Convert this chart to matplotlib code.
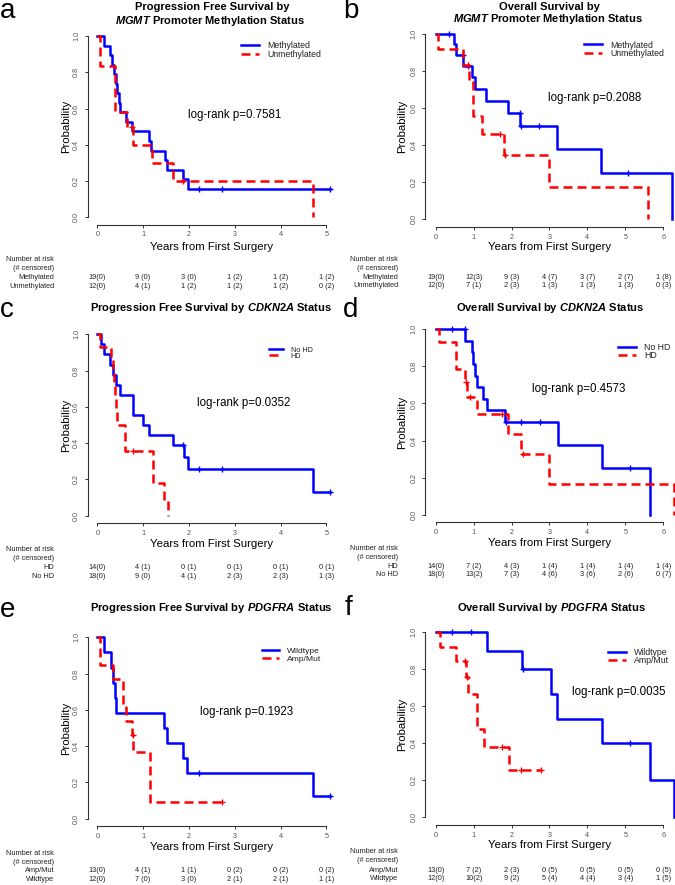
import matplotlib
matplotlib.use("Agg")
import matplotlib.pyplot as plt
import numpy as np
from matplotlib.transforms import blended_transform_factory

plt.rcParams['font.family'] = 'Liberation Sans'
plt.rcParams['mathtext.fontset'] = 'custom'
plt.rcParams['mathtext.it'] = 'Liberation Sans:italic:bold'
plt.rcParams['mathtext.rm'] = 'Liberation Sans:bold'
plt.rcParams['mathtext.bf'] = 'Liberation Sans:bold'

# ---------------- DATA ----------------
# a: PFS by MGMT
meth_pfs_t = [0, 0.15, 0.28, 0.33, 0.37, 0.41, 0.44, 0.48, 0.50, 0.63, 0.75, 1.13, 1.18, 1.47, 1.53, 1.87, 1.97, 5.08]
meth_pfs_s = [1.0, 0.947, 0.895, 0.842, 0.789, 0.737, 0.684, 0.632, 0.579, 0.526, 0.474, 0.421, 0.368, 0.316, 0.263, 0.211, 0.158, 0.158]
meth_pfs_cens = [2.23, 2.72, 5.08]
unmeth_pfs_t = [0, 0.06, 0.39, 0.64, 0.79, 1.19, 1.65, 4.70]
unmeth_pfs_s = [1.0, 0.833, 0.583, 0.5, 0.4, 0.3, 0.2, 0.0]
unmeth_pfs_cens = [0.75, 1.88]

# b: OS by MGMT
meth_os_t = [0, 0.49, 0.53, 0.73, 0.95, 1.04, 1.32, 1.90, 2.23, 3.19, 4.35, 6.22]
meth_os_s = [1.0, 0.944, 0.889, 0.830, 0.766, 0.702, 0.638, 0.574, 0.503, 0.377, 0.251, 0.0]
meth_os_cens = [0.36, 0.72, 0.86, 2.21, 2.25, 2.72, 5.08]
unmeth_os_t = [0, 0.07, 0.73, 0.88, 0.99, 1.21, 1.81, 2.98, 5.60]
unmeth_os_s = [1.0, 0.917, 0.833, 0.741, 0.556, 0.463, 0.347, 0.174, 0.0]
unmeth_os_cens = [0.85, 1.70, 1.84]

# c: PFS by CDKN2A
nohd_pfs_t = [0, 0.08, 0.15, 0.28, 0.35, 0.41, 0.50, 0.77, 0.79, 0.99, 1.12, 1.66, 1.90, 1.97, 4.71, 5.07]
nohd_pfs_s = [1.0, 0.944, 0.889, 0.833, 0.778, 0.722, 0.667, 0.611, 0.556, 0.5, 0.444, 0.389, 0.324, 0.259, 0.130, 0.130]
nohd_pfs_cens = [1.87, 2.23, 2.72, 5.07]
hd_pfs_t = [0, 0.06, 0.31, 0.35, 0.37, 0.39, 0.41, 0.44, 0.60, 1.21, 1.46, 1.54]
hd_pfs_s = [1.0, 0.929, 0.857, 0.786, 0.714, 0.643, 0.571, 0.5, 0.357, 0.179, 0.089, 0.0]
hd_pfs_cens = [0.77]

# d: OS by CDKN2A
nohd_os_t = [0, 0.78, 0.95, 0.99, 1.04, 1.08, 1.26, 1.34, 1.83, 3.22, 4.38, 5.65]
nohd_os_s = [1.0, 0.9375, 0.875, 0.8125, 0.75, 0.6875, 0.625, 0.5625, 0.5, 0.375, 0.25, 0.0]
nohd_os_cens = [0.42, 0.77, 1.85, 2.25, 2.75, 5.12]
hd_os_t = [0, 0.09, 0.53, 0.76, 0.82, 1.08, 1.90, 2.25, 2.99, 6.27]
hd_os_s = [1.0, 0.929, 0.786, 0.714, 0.635, 0.544, 0.435, 0.326, 0.163, 0.0]
hd_os_cens = [0.79, 0.90, 1.74, 2.31]

# e: PFS by PDGFRA
wt_pfs_t = [0, 0.15, 0.31, 0.35, 0.39, 0.40, 1.46, 1.53, 1.87, 1.95, 4.71, 5.07]
wt_pfs_s = [1.0, 0.917, 0.833, 0.75, 0.667, 0.583, 0.5, 0.417, 0.333, 0.25, 0.125, 0.125]
wt_pfs_cens = [2.23, 5.07]
amp_pfs_t = [0, 0.06, 0.34, 0.57, 0.63, 0.765, 0.78, 1.15, 2.72]
amp_pfs_s = [1.0, 0.846, 0.769, 0.615, 0.538, 0.462, 0.369, 0.092, 0.092]
amp_pfs_cens = [0.77, 2.72]

# f: OS by PDGFRA
wt_os_t = [0, 1.36, 2.28, 3.04, 3.20, 4.38, 5.65, 6.29]
wt_os_s = [1.0, 0.9, 0.8, 0.667, 0.533, 0.4, 0.2, 0.0]
wt_os_cens = [0.42, 0.93, 2.31, 5.12]
amp_os_t = [0, 0.12, 0.53, 0.81, 0.86, 1.08, 1.27, 1.93, 2.78]
amp_os_s = [1.0, 0.923, 0.846, 0.761, 0.666, 0.476, 0.381, 0.254, 0.254]
amp_os_cens = [0.77, 0.83, 1.74, 2.25, 2.78]

# number at risk tables
risk_a = {"Methylated": ["19(0)", "9 (0)", "3 (0)", "1 (2)", "1 (2)", "1 (2)"],
          "Unmethylated": ["12(0)", "4 (1)", "1 (2)", "1 (2)", "1 (2)", "0 (2)"]}
risk_b = {"Methylated": ["19(0)", "12(3)", "9 (3)", "4 (7)", "3 (7)", "2 (7)", "1 (8)"],
          "Unmethylated": ["12(0)", "7 (1)", "2 (3)", "1 (3)", "1 (3)", "1 (3)", "0 (3)"]}
risk_c = {"HD": ["14(0)", "4 (1)", "0 (1)", "0 (1)", "0 (1)", "0 (1)"],
          "No HD": ["18(0)", "9 (0)", "4 (1)", "2 (3)", "2 (3)", "1 (3)"]}
risk_d = {"HD": ["14(0)", "7 (2)", "4 (3)", "1 (4)", "1 (4)", "1 (4)", "1 (4)"],
          "No HD": ["18(0)", "13(2)", "7 (3)", "4 (6)", "3 (6)", "2 (6)", "0 (7)"]}
risk_e = {"Amp/Mut": ["13(0)", "4 (1)", "1 (1)", "0 (2)", "0 (2)", "0 (2)"],
          "Wildtype": ["12(0)", "7 (0)", "3 (0)", "2 (1)", "2 (1)", "1 (1)"]}
risk_f = {"Amp/Mut": ["13(0)", "7 (2)", "2 (3)", "0 (5)", "0 (5)", "0 (5)", "0 (5)"],
          "Wildtype": ["12(0)", "10(2)", "9 (2)", "5 (4)", "4 (4)", "3 (4)", "1 (5)"]}

pvals = ["0.7581", "0.2088", "0.0352", "0.4573", "0.1923", "0.0035"]

# ---------------- FIGURE ----------------
W, H = 675, 885
fig = plt.figure(figsize=(W / 100, H / 100), dpi=100)

def fx(x):
    return x / W

def fy(y):
    return 1 - y / H

BLUE = "#0000FF"
RED = "#FF0000"
AXC = "#333333"
TXC = "#555555"


def km(ax, t, s, cens, color, dashed, label):
    ls = (0, (3.6, 2.0)) if dashed else "-"
    line, = ax.step(t, s, where="post", color=color, lw=1.8, linestyle=ls,
                    clip_on=False, label=label)
    idx = np.searchsorted(t, cens, side="right") - 1
    ax.plot(cens, np.array(s)[idx], "+", color=color, ms=5, mew=1.0, clip_on=False)
    return line


def panel(geom, xmax, curves, risk, title, pos_title, pval, pos_p, letter, pos_letter,
          pos_leg, leg_size, rows_y, lab_x, xlab_y, ylab_x):
    t0, sx, ytop, ybot, xa, xb = geom
    sy = ybot - ytop
    left = t0 + xa * sx
    right = t0 + xb * sx
    top = ytop - 0.04 * sy
    bottom = ybot + 0.04 * sy
    ax = fig.add_axes([fx(left), fy(bottom), (right - left) / W, (bottom - top) / H])
    ax.set_xlim(xa, xb)
    ax.set_ylim(-0.04, 1.04)

    handles = []
    for (t, s, c, color, dashed, lab) in curves:
        handles.append(km(ax, t, s, c, color, dashed, lab))

    for side in ["top", "right"]:
        ax.spines[side].set_visible(False)
    for side in ["left", "bottom"]:
        ax.spines[side].set_color(AXC)
        ax.spines[side].set_linewidth(0.8)
    ax.spines["left"].set_bounds(0, 1)
    ax.spines["bottom"].set_bounds(0, xmax)
    ax.set_xticks(range(xmax + 1))
    ax.set_yticks([0, 0.2, 0.4, 0.6, 0.8, 1.0])
    ax.set_yticklabels(["0.0", "0.2", "0.4", "0.6", "0.8", "1.0"])
    ax.tick_params(direction="out", length=2.5, width=0.7, color=AXC,
                   labelsize=5.2, labelcolor=TXC)
    ax.tick_params(axis="x", pad=2.5)
    ax.tick_params(axis="y", pad=3, labelrotation=90)
    plt.setp(ax.get_yticklabels(), va="center")

    ax.set_xlabel("Years from First Surgery", fontsize=8.2, va="center")
    ax.xaxis.set_label_coords(0.5, (bottom - xlab_y) / (bottom - top))
    ax.set_ylabel("Probability", fontsize=8.2, va="center")
    ax.yaxis.set_label_coords((ylab_x - left) / (right - left), 0.5)

    # legend
    leg = ax.legend(handles=handles, loc="upper left", frameon=False,
                    bbox_to_anchor=(fx(pos_leg[0]), fy(pos_leg[1])),
                    bbox_transform=fig.transFigure, fontsize=leg_size,
                    borderpad=0, borderaxespad=0, handlelength=2.0,
                    handletextpad=1.0, labelspacing=-0.1)
    for txt in leg.get_texts():
        txt.set_color("#222222")

    # p-value
    ax.text((pos_p[0] - t0) / sx, (ybot - pos_p[1]) / sy, "log-rank p=" + pval,
            ha="center", va="center", fontsize=8.3)

    # title
    for line, (xc, yc) in zip(title, pos_title):
        fig.text(fx(xc), fy(yc), line, ha="center", va="center", fontsize=8,
                 fontweight="bold")

    # panel letter
    fig.text(fx(pos_letter[0]), fy(pos_letter[1]), letter, fontsize=20,
             va="baseline", ha="left")

    # risk table
    trans = blended_transform_factory(ax.transData, fig.transFigure)
    fig.text(fx(lab_x), fy(rows_y[0]), "Number at risk", ha="right", va="center",
             fontsize=5.3, color="#222222")
    fig.text(fx(lab_x), fy(rows_y[1]), "(# censored)", ha="right", va="center",
             fontsize=5.3, color="#222222")
    for k, (name, vals) in enumerate(risk.items()):
        y = rows_y[2 + k]
        fig.text(fx(lab_x), fy(y), name, ha="right", va="center", fontsize=5.3,
                 color="#222222")
        for i, v in enumerate(vals):
            ax.text(i, fy(y), v, transform=trans, ha="center", va="center",
                    fontsize=5.3, color="#222222")
    return ax


LEFT = (97.3, 45.8, -0.21, 5.2)
RIGHT = (435.7, 37.93, -0.28, 6.3)

def g(col, ytop, ybot):
    return (col[0], col[1], ytop, ybot, col[2], col[3])

# a
panel(g(LEFT, 36, 217.3), 5,
      [(meth_pfs_t, meth_pfs_s, meth_pfs_cens, BLUE, False, "Methylated"),
       (unmeth_pfs_t, unmeth_pfs_s, unmeth_pfs_cens, RED, True, "Unmethylated")],
      risk_a, ["Progression Free Survival by", r"$\mathit{MGMT}$ Promoter Methylation Status"],
      [(212, 7), (210, 21)], pvals[0], (235, 115), "a", (0, 18),
      (241, 41.5), 6.3, [259.3, 268.3, 277.3, 286], 54, 246.7, 66)
# b
panel(g(RIGHT, 34, 219.3), 6,
      [(meth_os_t, meth_os_s, meth_os_cens, BLUE, False, "Methylated"),
       (unmeth_os_t, unmeth_os_s, unmeth_os_cens, RED, True, "Unmethylated")],
      risk_b, ["Overall Survival by", r"$\mathit{MGMT}$ Promoter Methylation Status"],
      [(549, 6.7), (548, 19.5)], pvals[1], (594.3, 98.3), "b", (343, 18.3),
      (584, 40.5), 6.3, [259.3, 268.3, 277.3, 285.3], 398, 247.3, 402)
# c
panel(g(LEFT, 334.3, 515.7), 5,
      [(nohd_pfs_t, nohd_pfs_s, nohd_pfs_cens, BLUE, False, "No HD"),
       (hd_pfs_t, hd_pfs_s, hd_pfs_cens, RED, True, "HD")],
      risk_c, [r"Progression Free Survival by $\mathit{CDKN2A}$ Status"],
      [(211, 308.3)], pvals[2], (243.3, 403.3), "c", (0, 316.7),
      (269, 346.5), 5.2, [549.3, 558.3, 567.3, 576], 54, 544.3, 66)
# d
panel(g(RIGHT, 329.3, 514.7), 6,
      [(nohd_os_t, nohd_os_s, nohd_os_cens, BLUE, False, "No HD"),
       (hd_os_t, hd_os_s, hd_os_cens, RED, True, "HD")],
      risk_d, [r"Overall Survival by $\mathit{CDKN2A}$ Status"],
      [(550.5, 308.3)], pvals[3], (579, 389), "d", (343, 316.7),
      (618, 343), 6.3, [548.3, 557.3, 566.7, 575], 398, 543.3, 402)
# e
panel(g(LEFT, 637.3, 818.7), 5,
      [(wt_pfs_t, wt_pfs_s, wt_pfs_cens, BLUE, False, "Wildtype"),
       (amp_pfs_t, amp_pfs_s, amp_pfs_cens, RED, True, "Amp/Mut")],
      risk_e, [r"Progression Free Survival by $\mathit{PDGFRA}$ Status"],
      [(211, 607.7)], pvals[4], (246.7, 711.7), "e", (0, 616.7),
      (262, 647.5), 6.1, [853.3, 862.3, 871, 879.3], 54, 846.7, 66)
# f
panel(g(RIGHT, 632.3, 817.3), 6,
      [(wt_os_t, wt_os_s, wt_os_cens, BLUE, False, "Wildtype"),
       (amp_os_t, amp_os_s, amp_os_cens, RED, True, "Amp/Mut")],
      risk_f, [r"Overall Survival by $\mathit{PDGFRA}$ Status"],
      [(551, 607.7)], pvals[5], (618.3, 692.3), "f", (345, 615),
      (608, 648), 6.3, [851.7, 860.7, 870, 878.3], 398, 845, 402)

fig.savefig("out.png", dpi=100)
